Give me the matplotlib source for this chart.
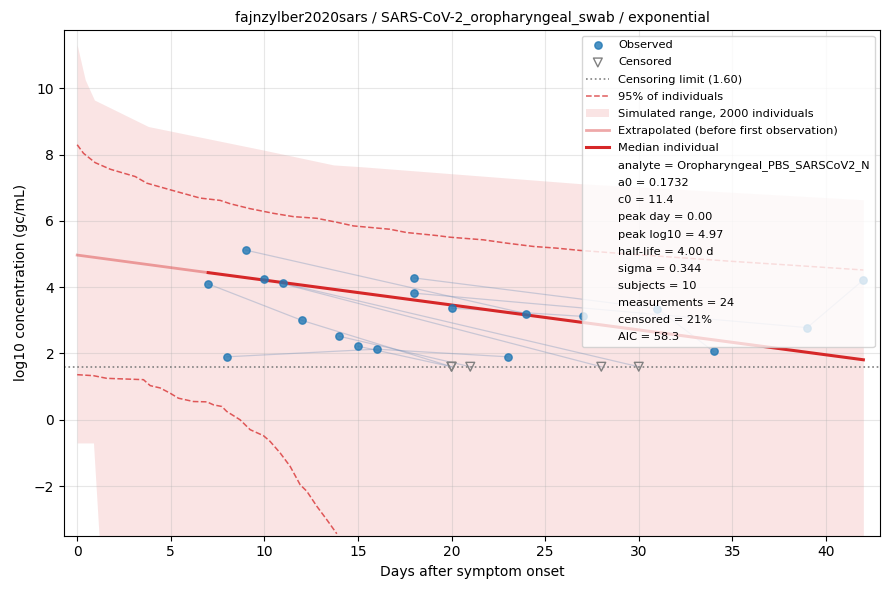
import matplotlib
matplotlib.use('Agg')
import matplotlib.pyplot as plt
import numpy as np

# observed measurements, one list per subject (day, log10 gc/mL); None = censored
subjects = [
    [(7, 4.10), (12, 3.00), (20, None)],
    [(8, 1.90), (16, 2.13), (23, 1.90)],
    [(9, 5.12), (24, 3.20)],
    [(10, 4.25), (28, None)],
    [(11, 4.12), (30, None)],
    [(14, 2.52), (21, None)],
    [(15, 2.22), (20, None)],
    [(18, 4.28), (31, 3.35), (34, 2.06)],
    [(18, 3.82), (39, 2.78), (42, 4.22)],
    [(20, 3.37), (27, 3.12)],
]
censor_limit = 1.60

# simulated range envelope
range_days = [0, 0.43, 0.92, 3.8, 9.95, 13.7, 15.1, 27.0, 42.0]
range_upper = [11.31, 10.26, 9.65, 8.85, 8.14, 7.69, 7.64, 7.12, 6.64]
range_low_days = [0, 0.87, 1.19, 1.5, 42.0]
range_lower = [-0.70, -0.70, -3.7, -6.0, -6.0]

# 95% of individuals
p95_days = [0, 0.34, 0.96, 1.77, 3.1, 3.72, 4.97, 6.57, 7.64, 8.17, 9.24, 10.48,
            11.55, 12.8, 13.87, 14.76, 16.7, 17.6, 19.2, 19.9, 21.7, 22.95, 24.37,
            25.6, 26.86, 30, 35, 38, 42]
p95_upper = [8.30, 8.04, 7.76, 7.56, 7.34, 7.14, 6.94, 6.69, 6.62, 6.52, 6.37, 6.23,
             6.13, 6.08, 5.96, 5.85, 5.75, 5.65, 5.56, 5.51, 5.43, 5.33, 5.23,
             5.18, 5.11, 4.98, 4.78, 4.67, 4.52]
p95_low_days = [0, 0.87, 1.58, 3.54, 3.9, 4.43, 4.97, 5.41, 6.21, 6.93, 7.28, 7.73,
                7.99, 8.7, 9.24, 9.95, 10.3, 10.84, 11.38, 11.91, 12.27, 12.8,
                13.34, 13.87]
p95_lower = [1.36, 1.33, 1.25, 1.21, 1.03, 0.96, 0.80, 0.65, 0.55, 0.54, 0.45, 0.40,
             0.25, 0.00, -0.30, -0.48, -0.65, -1.00, -1.41, -1.96, -2.16, -2.61,
             -3.02, -3.44]

# median individual (straight in log10 space)
extrap_days = [0, 7]
extrap_vals = [4.97, 4.44]
median_days = [7, 42]
median_vals = [4.44, 1.81]

info = [
    'analyte = Oropharyngeal_PBS_SARSCoV2_N',
    'a0 = 0.1732',
    'c0 = 11.4',
    'peak day = 0.00',
    'peak log10 = 4.97',
    'half-life = 4.00 d',
    'sigma = 0.344',
    'subjects = 10',
    'measurements = 24',
    'censored = 21%',
    'AIC = 58.3',
]

fig, ax = plt.subplots(figsize=(8.9, 5.9), dpi=100)
fig.subplots_adjust(left=0.072, right=0.989, top=0.949, bottom=0.092)

env_x = sorted(set(range_days) | set(range_low_days))
env_up = np.interp(env_x, range_days, range_upper)
env_lo = np.interp(env_x, range_low_days, range_lower)
ax.fill_between(env_x, env_lo, env_up, color='#d62728', alpha=0.12, linewidth=0,
                label='Simulated range, 2000 individuals')

ax.plot(p95_days, p95_upper, color='#d62728', alpha=0.75, linestyle='--',
        linewidth=1.1, label='95% of individuals')
ax.plot(p95_low_days, p95_lower, color='#d62728', alpha=0.75, linestyle='--',
        linewidth=1.1)

obs_x, obs_y, cen_x = [], [], []
for subj in subjects:
    xs = [d for d, v in subj]
    ys = [censor_limit if v is None else v for d, v in subj]
    ax.plot(xs, ys, color='#6f8fb8', alpha=0.35, linewidth=0.9, zorder=2)
    for d, v in subj:
        if v is None:
            cen_x.append(d)
        else:
            obs_x.append(d)
            obs_y.append(v)

ax.axhline(censor_limit, color='grey', linestyle=':', linewidth=1.2,
           label='Censoring limit (1.60)', zorder=2)

ax.plot(extrap_days, extrap_vals, color='#d62728', alpha=0.4, linewidth=2,
        label='Extrapolated (before first observation)', zorder=3)
ax.plot(median_days, median_vals, color='#d62728', linewidth=2.2,
        label='Median individual', zorder=3)

ax.scatter(obs_x, obs_y, s=28, color='#1f77b4', alpha=0.8, zorder=4,
           label='Observed')
ax.scatter(cen_x, [censor_limit] * len(cen_x), s=40, marker='v',
           facecolors='none', edgecolors='grey', linewidths=1, zorder=4,
           label='Censored')

for line in info:
    ax.plot([], [], ' ', label=line)

handles, labels = ax.get_legend_handles_labels()
order = ['Observed', 'Censored', 'Censoring limit (1.60)', '95% of individuals',
         'Simulated range, 2000 individuals',
         'Extrapolated (before first observation)', 'Median individual'] + info
hl = dict(zip(labels, handles))
ax.legend([hl[k] for k in order], order, loc='upper right', fontsize=8.2,
          labelspacing=0.625)

ax.set_xlim(-0.7, 42.9)
ax.set_ylim(-3.5, 11.76)
ax.grid(True, alpha=0.3)
ax.set_xlabel('Days after symptom onset')
ax.set_ylabel('log10 concentration (gc/mL)')
ax.set_title('fajnzylber2020sars / SARS-CoV-2_oropharyngeal_swab / exponential',
             fontsize=10)
fig.savefig('out.png')
